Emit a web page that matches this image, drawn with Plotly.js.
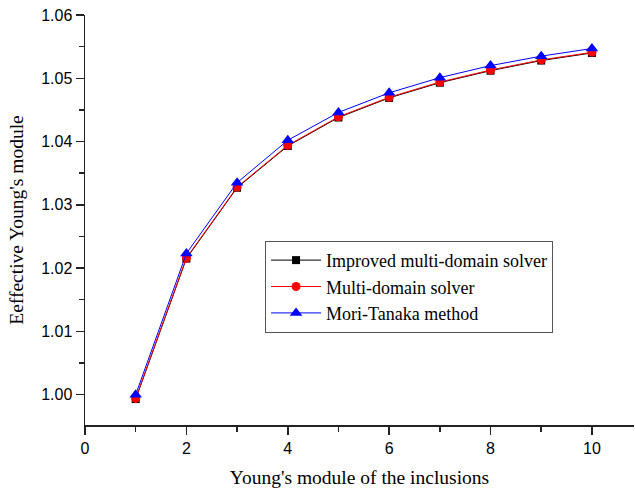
<!DOCTYPE html>
<html>
<head>
<meta charset="utf-8">
<script src="https://cdn.plot.ly/plotly-3.0.1.min.js"></script>
<style>html,body{margin:0;padding:0;background:#fff;}#chart{width:635px;height:492px;}</style>
</head>
<body>
<div id="chart"></div>
<script>
const inclusionModulus = [1, 2, 3, 4, 5, 6, 7, 8, 9, 10];
const improvedSolver = [0.9993, 1.0215, 1.0327, 1.0393, 1.0438, 1.0469, 1.0493, 1.0512, 1.0528, 1.0540];
const multiDomainSolver = [0.9994, 1.0216, 1.0328, 1.0394, 1.0439, 1.0470, 1.0494, 1.0513, 1.0529, 1.0541];
const moriTanaka = [1.0000, 1.0223, 1.0335, 1.0402, 1.0446, 1.0477, 1.0501, 1.0520, 1.0535, 1.0547];
const seriesNames = ["Improved multi-domain solver", "Multi-domain solver", "Mori-Tanaka method"];
const xTickVals = [0, 2, 4, 6, 8, 10];
const yTickVals = [1.00, 1.01, 1.02, 1.03, 1.04, 1.05, 1.06];
const yTickText = ["1.00", "1.01", "1.02", "1.03", "1.04", "1.05", "1.06"];

const xRange = [0, 10.83];
const yRange = [0.9952, 1.06];
const axisColor = '#222';
const serif = 'Liberation Serif, Times New Roman, serif';
const sans = 'Liberation Sans, Arial, sans-serif';

const traces = [
  {x: inclusionModulus, y: improvedSolver, name: seriesNames[0], mode: 'lines+markers',
   line: {color: '#000', width: 1}, marker: {symbol: 'square', size: 8, color: '#000'}},
  {x: inclusionModulus, y: multiDomainSolver, name: seriesNames[1], mode: 'lines+markers',
   line: {color: '#ff0000', width: 1}, marker: {symbol: 'circle', size: 9, color: '#ff0000'}},
  {x: inclusionModulus, y: moriTanaka, name: seriesNames[2], mode: 'lines+markers',
   line: {color: '#0000ff', width: 1}, marker: {symbol: 'triangle-up', size: 11, color: '#0000ff'}}
];

const layout = {
  width: 635, height: 492,
  margin: {l: 85, r: 1, t: 15, b: 67},
  paper_bgcolor: '#fff', plot_bgcolor: '#fff',
  showlegend: true,
  legend: {x: 0.328, y: 0.449, xanchor: 'left', yanchor: 'top',
    bordercolor: '#555', borderwidth: 1, bgcolor: '#fff', itemwidth: 50,
    font: {family: serif, size: 18, color: '#000'},
    tracegroupgap: 0},
  xaxis: {range: xRange, tickvals: xTickVals, ticks: 'outside', ticklen: 8, tickwidth: 1.5, tickcolor: axisColor,
    showline: true, linecolor: axisColor, linewidth: 1.5, showgrid: false, zeroline: false,
    minor: {dtick: 1, tick0: 0, ticks: 'outside', ticklen: 5, tickwidth: 1.5, tickcolor: axisColor, showgrid: false},
    tickfont: {family: sans, size: 16, color: '#000'},
    title: {text: "Young's module of the inclusions", standoff: 14,
      font: {family: serif, size: 19.5, color: '#000'}}},
  yaxis: {range: yRange, tickvals: yTickVals, ticktext: yTickText, ticks: 'outside', ticklen: 8, tickwidth: 1.5, tickcolor: axisColor,
    showline: true, linecolor: axisColor, linewidth: 1.5, showgrid: false, zeroline: false,
    minor: {dtick: 0.005, tick0: 1.0, ticks: 'outside', ticklen: 5, tickwidth: 1.5, tickcolor: axisColor, showgrid: false},
    tickfont: {family: sans, size: 16, color: '#000'},
    title: {text: "Eeffective Young's module", standoff: 12,
      font: {family: serif, size: 19.5, color: '#000'}}},
  xaxis2: {overlaying: 'x', side: 'top', range: xRange, dtick: 1, tick0: 0, ticks: 'inside', ticklen: 5, tickwidth: 1.5,
    tickcolor: axisColor, showline: true, linecolor: axisColor, linewidth: 1.5, showticklabels: false,
    showgrid: false, zeroline: false},
  yaxis2: {overlaying: 'y', side: 'right', range: yRange, dtick: 0.005, tick0: 1.0, ticks: 'inside', ticklen: 5, tickwidth: 1.5,
    tickcolor: axisColor, showline: true, linecolor: axisColor, linewidth: 1.5, showticklabels: false,
    showgrid: false, zeroline: false}
};

Plotly.newPlot('chart', traces, layout, {displayModeBar: false, staticPlot: true});
</script>
</body>
</html>
